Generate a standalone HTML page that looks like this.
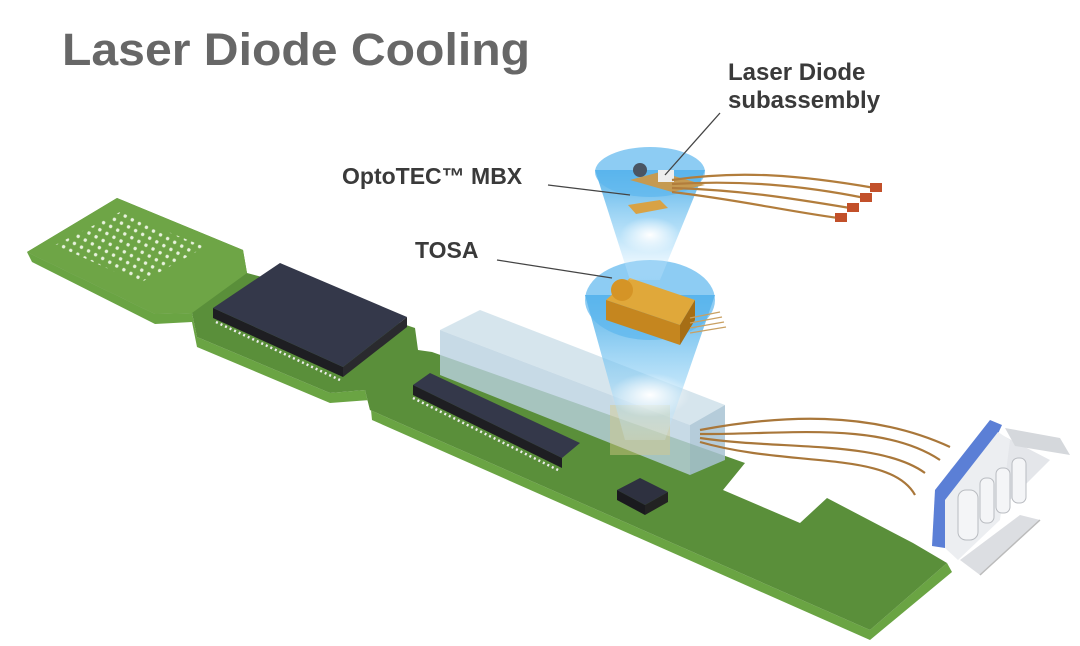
<!DOCTYPE html>
<html><head><meta charset="utf-8"><style>
html,body{margin:0;padding:0;background:#fff;width:1080px;height:646px;overflow:hidden}
svg{display:block}
text{font-family:"Liberation Sans",sans-serif;font-weight:bold}
</style></head><body>
<svg width="1080" height="646" viewBox="0 0 1080 646" xmlns="http://www.w3.org/2000/svg">
<defs>
<linearGradient id="cone" x1="0" y1="0" x2="0" y2="1">
<stop offset="0" stop-color="#3fa7e6" stop-opacity="0.9"/>
<stop offset="0.6" stop-color="#8fd0f5" stop-opacity="0.6"/>
<stop offset="1" stop-color="#d9f0ff" stop-opacity="0.2"/>
</linearGradient>
<radialGradient id="glow" cx="0.5" cy="0.5" r="0.5">
<stop offset="0" stop-color="#fff"/><stop offset="1" stop-color="#fff" stop-opacity="0"/>
</radialGradient>
<pattern id="dots" width="8" height="8" patternUnits="userSpaceOnUse" patternTransform="rotate(28)"><circle cx="4" cy="4" r="1.7" fill="#e8f2dd"/></pattern>
</defs>
<text x="62" y="65" font-size="45" fill="#676767" textLength="468" lengthAdjust="spacingAndGlyphs">Laser Diode Cooling</text>
<text x="728" y="80" font-size="24" fill="#3a3a3a">Laser Diode</text>
<text x="728" y="108" font-size="24" fill="#3a3a3a">subassembly</text>
<text x="342" y="184" font-size="23" fill="#3a3a3a">OptoTEC™ MBX</text>
<text x="415" y="258" font-size="23" fill="#3a3a3a">TOSA</text>

<polygon points="27,252 32,262 155,324 192,322 197,347 330,403 370,400 372,420 870,640 952,572 947,563 870,630 370,410 365,390 330,393 197,337 192,313 155,314" fill="#6aa443"/>
<polygon points="27,252 117,198 243,250 247,273 262,277 415,328 418,350 432,352 745,463 723,490 800,523 827,498 913,543 947,563 870,630 370,410 365,390 330,393 197,337 192,313 155,314" fill="#5a8f3a"/>
<polygon points="27,252 117,198 243,250 247,273 192,313 155,314" fill="#6ea546"/>
<polygon points="55,245 120,212 205,247 140,283" fill="url(#dots)"/>
<!-- big chip -->
<polygon points="213,308 343,367 343,377 213,318" fill="#1e1e22"/>
<polygon points="343,367 407,317 407,327 343,377" fill="#2a2a2e"/>
<polygon points="280,263 407,317 343,367 213,308" fill="#34384a"/>
<line x1="216" y1="322" x2="340" y2="380" stroke="#eee" stroke-width="2.5" stroke-dasharray="2 3"/>
<!-- second chip -->
<polygon points="413,385 430,373 580,443 562,458" fill="#34384a"/>
<polygon points="413,385 562,458 562,468 413,395" fill="#1e1e22"/>
<line x1="413" y1="398" x2="560" y2="471" stroke="#eee" stroke-width="2.5" stroke-dasharray="2 3"/>
<!-- small chip -->
<polygon points="617,490 640,478 668,492 645,505" fill="#2e3140"/>
<polygon points="617,490 645,505 645,515 617,500" fill="#1a1a1e"/>
<polygon points="645,505 668,492 668,502 645,515" fill="#222"/>
<!-- TOSA translucent box -->
<polygon points="440,330 480,310 725,405 690,425" fill="#cfe0ea" opacity="0.85"/>
<polygon points="440,330 690,425 690,475 440,375" fill="#b9d1e0" opacity="0.8"/>
<polygon points="690,425 725,405 725,460 690,475" fill="#a8c3d3" opacity="0.85"/>
<rect x="610" y="405" width="60" height="50" fill="#d8c98a" opacity="0.45"/>
<!-- lower cone -->
<polygon points="585,295 715,295 665,440 625,440" fill="url(#cone)"/>
<ellipse cx="650" cy="395" rx="40" ry="22" fill="url(#glow)"/>
<ellipse cx="650" cy="300" rx="65" ry="40" fill="#5cb6ee" opacity="0.7"/>
<polygon points="606,300 630,278 695,300 680,325" fill="#e0a83a"/>
<polygon points="606,300 680,325 680,345 606,320" fill="#c5861f"/>
<polygon points="680,325 695,300 695,320 680,345" fill="#a66e15"/>
<circle cx="622" cy="290" r="11" fill="#d59426"/>
<g stroke="#c9a062" stroke-width="1.3"><line x1="690" y1="318" x2="720" y2="312"/><line x1="690" y1="323" x2="722" y2="317"/><line x1="690" y1="328" x2="724" y2="322"/><line x1="690" y1="333" x2="726" y2="327"/></g>
<!-- upper cone -->
<polygon points="595,170 705,170 660,280 630,280" fill="url(#cone)"/>
<ellipse cx="650" cy="235" rx="30" ry="18" fill="url(#glow)"/>
<ellipse cx="650" cy="172" rx="55" ry="25" fill="#5cb6ee" opacity="0.7"/>
<polygon points="630,180 660,172 705,185 672,192" fill="#c59a52"/>
<rect x="658" y="170" width="16" height="12" fill="#eee"/>
<circle cx="640" cy="170" r="7" fill="#4a5563"/>
<polygon points="628,205 660,200 668,208 636,214" fill="#d8a245"/>
<g fill="none" stroke="#b27d3c" stroke-width="2.2">
<path d="M672,180 C740,170 800,175 875,188"/>
<path d="M672,184 C740,180 800,185 865,198"/>
<path d="M672,188 C740,190 790,198 850,208"/>
<path d="M672,192 C740,200 780,210 838,218"/>
</g>
<g fill="#c2502a"><rect x="870" y="183" width="12" height="9"/><rect x="860" y="193" width="12" height="9"/><rect x="847" y="203" width="12" height="9"/><rect x="835" y="213" width="12" height="9"/></g>
<g stroke="#444" stroke-width="1.3" fill="none">
<line x1="720" y1="113" x2="665" y2="175"/>
<line x1="548" y1="185" x2="630" y2="195"/>
<line x1="497" y1="260" x2="612" y2="278"/>
</g>
<g fill="none" stroke="#a9773a" stroke-width="2.2">
<path d="M700,430 C780,415 870,410 950,447"/>
<path d="M700,434 C780,435 880,420 940,460"/>
<path d="M700,438 C780,450 880,440 925,473"/>
<path d="M700,442 C790,468 890,450 915,495"/>
</g>
<polygon points="950,470 992,430 1050,460 1010,500" fill="#e4e6ea"/>
<polygon points="1005,428 1060,438 1070,455 1015,446" fill="#d5d8dc"/>
<polygon points="935,490 990,420 1002,425 945,548 932,546" fill="#5b7fd6"/>
<polygon points="945,500 998,432 1010,440 1000,520 958,560 945,548" fill="#eceef1"/>
<g fill="#f4f5f7" stroke="#b9bcc1"><rect x="958" y="490" width="20" height="50" rx="8"/><rect x="980" y="478" width="14" height="45" rx="6"/><rect x="996" y="468" width="14" height="45" rx="6"/><rect x="1012" y="458" width="14" height="45" rx="6"/></g>
<polygon points="960,560 1020,515 1040,520 980,575" fill="#dcdee2"/>
<line x1="980" y1="575" x2="1040" y2="520" stroke="#bbb" stroke-width="1.5"/>
</svg>
</body></html>
